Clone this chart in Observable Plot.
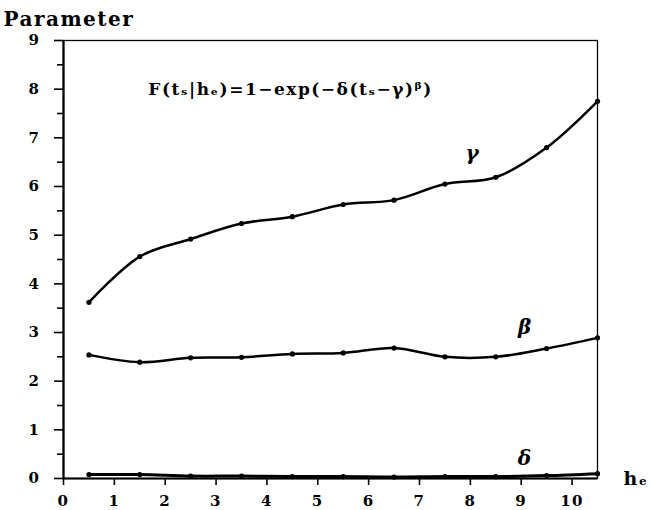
<!DOCTYPE html>
<html>
<head>
<meta charset="utf-8">
<script src="https://cdn.jsdelivr.net/npm/d3@7"></script>
<script src="https://cdn.jsdelivr.net/npm/@observablehq/plot@0.6"></script>
<style>
  html, body { margin: 0; padding: 0; background: white; }
  svg text { letter-spacing: 1.5px; }
  svg text.formula { letter-spacing: 2.5px; }
  svg text.ytitle { letter-spacing: 2.5px; }
</style>
</head>
<body>
<div id="chart"></div>
<script>
const hValues = [0.5, 1.5, 2.5, 3.5, 4.5, 5.5, 6.5, 7.5, 8.5, 9.5, 10.5];
const gammaValues = [3.62, 4.56, 4.92, 5.24, 5.38, 5.63, 5.72, 6.05, 6.19, 6.80, 7.75];
const betaValues = [2.54, 2.39, 2.48, 2.49, 2.56, 2.58, 2.68, 2.50, 2.50, 2.67, 2.89];
const deltaValues = [0.08, 0.08, 0.05, 0.05, 0.04, 0.04, 0.03, 0.04, 0.04, 0.06, 0.10];
const xTicks = [0, 1, 2, 3, 4, 5, 6, 7, 8, 9, 10];
const yTicks = [0, 1, 2, 3, 4, 5, 6, 7, 8, 9];
const yMinorTicks = [0.5, 1.5, 2.5, 3.5, 4.5, 5.5, 6.5, 7.5, 8.5];
const seriesLabels = [
  {name: "γ", x: 8.05, y: 6.68},
  {name: "β", x: 9.08, y: 3.1},
  {name: "δ", x: 9.08, y: 0.4}
];
const formula = "F(tₛ|hₑ)=1−exp(−δ(tₛ−γ)ᵝ)";

const gammaData = hValues.map((h, i) => ({h, v: gammaValues[i]}));
const betaData = hValues.map((h, i) => ({h, v: betaValues[i]}));
const deltaData = hValues.map((h, i) => ({h, v: deltaValues[i]}));

const lineOpts = {x: "h", y: "v", stroke: "black", strokeWidth: 2.5, curve: "catmull-rom"};
const dotOpts = {x: "h", y: "v", fill: "black", r: 2.6};

const chart = Plot.plot({
  width: 651,
  height: 510,
  marginLeft: 63,
  marginRight: 54,
  marginTop: 40,
  marginBottom: 32,
  x: {domain: [0, 10.5]},
  y: {domain: [0, 9]},
  style: {fontFamily: "'DejaVu Serif', serif", fontWeight: "bold", background: "white", color: "black"},
  marks: [
    Plot.frame({stroke: "black", strokeWidth: 1.3}),
    Plot.axisY({ticks: yTicks, tickSize: 9, tickPadding: 14, fontSize: 15, label: null, strokeWidth: 1.6}),
    Plot.axisY({ticks: yMinorTicks, tickSize: 6, tickFormat: () => "", label: null, strokeWidth: 1.6}),
    Plot.axisX({ticks: xTicks, tickSize: 7, tickPadding: 10, fontSize: 15, label: null, strokeWidth: 1.6}),
    Plot.ruleX([0], {strokeWidth: 2.2}),
    Plot.ruleY([0], {strokeWidth: 2.2}),
    Plot.line(gammaData, lineOpts),
    Plot.dot(gammaData, dotOpts),
    Plot.line(betaData, lineOpts),
    Plot.dot(betaData, dotOpts),
    Plot.line(deltaData, {...lineOpts, strokeWidth: 3}),
    Plot.dot(deltaData, dotOpts),
    Plot.text(seriesLabels, {x: "x", y: "y", text: "name", fontSize: 20, fontStyle: "italic", fontWeight: "bold"}),
    Plot.text([formula], {frameAnchor: "top", dx: -40, dy: 42, fontSize: 17, fontWeight: "bold", className: "formula"}),
    Plot.text(["Parameter"], {frameAnchor: "top-left", textAnchor: "start", dx: -60, dy: -29, fontSize: 20, fontWeight: "bold", className: "ytitle"}),
    Plot.text(["hₑ"], {frameAnchor: "bottom-right", textAnchor: "start", dx: 26, dy: 6, fontSize: 19, fontWeight: "bold"})
  ]
});
document.getElementById("chart").appendChild(chart);
</script>
</body>
</html>
